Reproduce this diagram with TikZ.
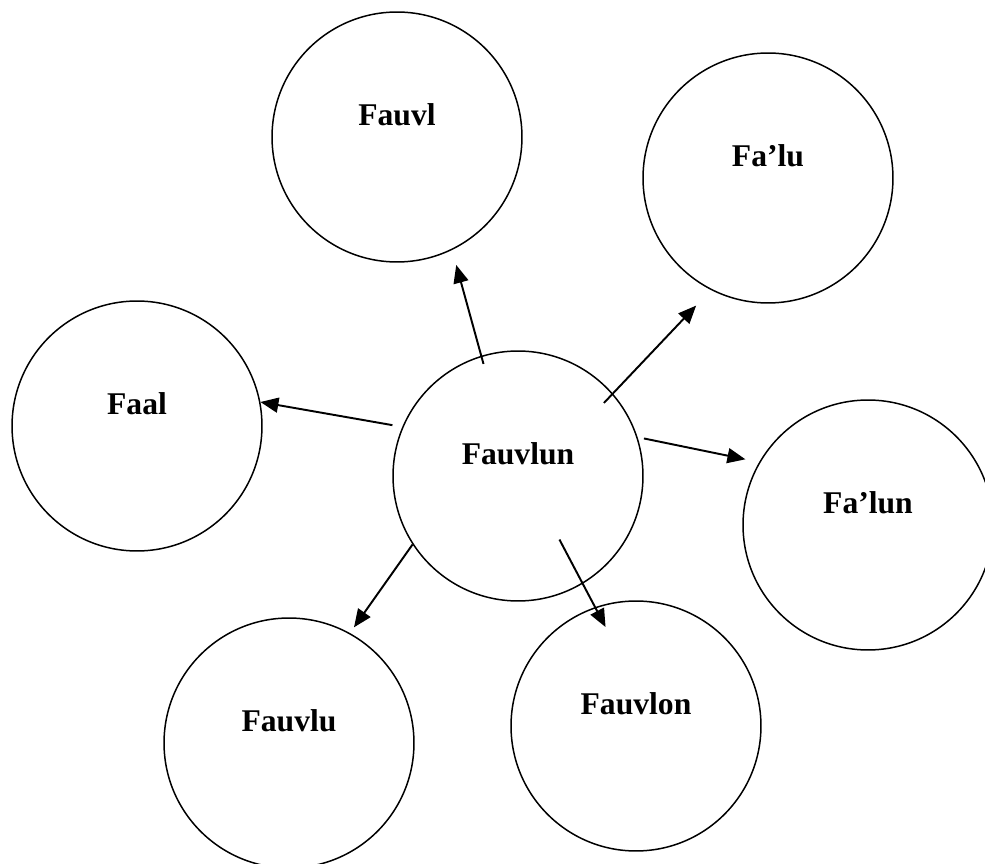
\documentclass[tikz,border=0pt]{standalone}
\usepackage{fontspec}
\setmainfont{Liberation Serif}
\usepackage{tikz}
\usetikzlibrary{positioning,arrows.meta,calc}
\tikzset{
  word-node/.style={draw=black, line width=0.85pt, circle, minimum size=5cm,
    inner sep=0pt},
  word-label/.style={font=\fontsize{18}{22}\selectfont\bfseries, yshift=0.44cm,
    inner sep=0pt},
  flow-arrow/.style={-{Triangle[length=3.6mm, width=3mm]}, line width=1.1pt,
    draw=black}
}
\begin{document}
\begin{tikzpicture}[x=0.02cm, y=-0.02cm]
\useasboundingbox (0,0) rectangle (985,864);

% Central word
\node[word-node, label={[word-label]center:Fauvlun}] (fauvlun) at (518,476) {};

% Surrounding forms
\foreach \id/\x/\y/\word in {
  fauvl/397/137/{Fauvl},
  falu/768/178/{Fa’lu},
  faal/137/426/{Faal},
  falun/868/525/{Fa’lun},
  fauvlu/289/743/{Fauvlu},
  fauvlon/636/726/{Fauvlon}}
{
  \node[word-node, label={[word-label]center:\word}] (\id) at (\x,\y) {};
}

% Arrows from the centre outwards
\foreach \to/\from/\at/\s/\e in {
  fauvl/107.4/-64.5/-0.17cm/0.31cm,
  falu/41.2/243.2/-0.26cm/0.43cm,
  faal/157.3/11.6/0.2cm/0cm,
  falun/18.4/150.9/0.13cm/0.28cm,
  fauvlu/213.3/61.9/0cm/0.14cm,
  fauvlon/-59.2/109.9/-1.0cm/-0.45cm}
{
  \draw[flow-arrow, shorten <=\s, shorten >=\e] (fauvlun.\from) -- (\to.\at);
}
\end{tikzpicture}
\end{document}
